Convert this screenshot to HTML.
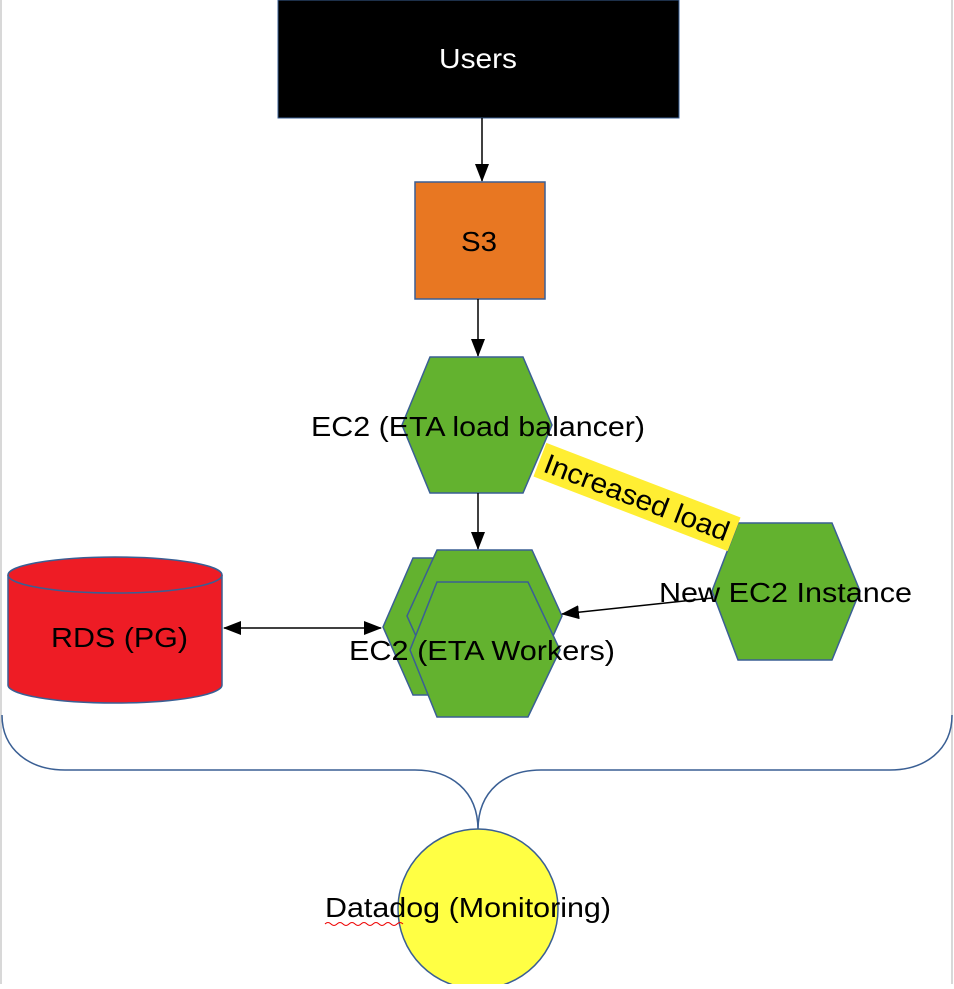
<!DOCTYPE html>
<html><head><style>
body{margin:0;background:#fff}
svg text{font-family:"Liberation Sans",sans-serif;}
</style></head><body>
<svg width="954" height="984" viewBox="0 0 954 984" xmlns="http://www.w3.org/2000/svg">
<line x1="1" y1="0" x2="1" y2="984" stroke="#ccc" stroke-width="1.5"/>
<line x1="952" y1="0" x2="952" y2="984" stroke="#ccc" stroke-width="1.5"/>
<defs><marker id="a" markerWidth="18" markerHeight="14" refX="17" refY="7" orient="auto" markerUnits="userSpaceOnUse"><path d="M0,0 L18,7 L0,14 z" fill="#000"/></marker>
<marker id="b" markerWidth="18" markerHeight="14" refX="1" refY="7" orient="auto" markerUnits="userSpaceOnUse"><path d="M18,0 L0,7 L18,14 z" fill="#000"/></marker></defs>
<rect x="278" y="0" width="401" height="118" fill="#000" stroke="#3a5f94"/>
<text x="439" y="68" fill="#fff" font-size="28" textLength="78" lengthAdjust="spacingAndGlyphs">Users</text>
<line x1="482" y1="118" x2="482" y2="181" stroke="#000" stroke-width="1.5" marker-end="url(#a)"/>
<rect x="415" y="182" width="130" height="117" fill="#e87722" stroke="#3a5f94" stroke-width="1.5"/>
<text x="461" y="251" font-size="28" textLength="36" lengthAdjust="spacingAndGlyphs">S3</text>
<line x1="478" y1="299" x2="478" y2="356" stroke="#000" stroke-width="1.5" marker-end="url(#a)"/>
<polygon points="430,357 523,357 552,425 523,493 430,493 402,425" fill="#63b22f" stroke="#3a5f94" stroke-width="1.5"/>
<text x="311" y="436" font-size="28" textLength="334" lengthAdjust="spacingAndGlyphs">EC2 (ETA load balancer)</text>
<line x1="478" y1="493" x2="478" y2="549" stroke="#000" stroke-width="1.5" marker-end="url(#a)"/>
<polygon points="413,558 506,558 534,627 506,695 413,695 383,627" fill="#63b22f" stroke="#3a5f94" stroke-width="1.5"/>
<polygon points="437,550 532,550 562,616 532,683 437,683 407,616" fill="#63b22f" stroke="#3a5f94" stroke-width="1.5"/>
<polygon points="437,582 528,582 560,650 528,717 437,717 410,650" fill="#63b22f" stroke="#3a5f94" stroke-width="1.5"/>
<text x="349" y="660" font-size="28" textLength="266" lengthAdjust="spacingAndGlyphs">EC2 (ETA Workers)</text>
<polygon points="738,523 832,523 860,591 832,660 738,660 712,591" fill="#63b22f" stroke="#3a5f94" stroke-width="1.5"/>
<line x1="712" y1="598" x2="562" y2="614" stroke="#000" stroke-width="1.5" marker-end="url(#a)"/>
<text x="659" y="602" font-size="28" textLength="253" lengthAdjust="spacingAndGlyphs">New EC2 Instance</text>
<path d="M8,575 L8,685 A107,18 0 0 0 222,685 L222,575" fill="#ee1c25" stroke="#3a5f94" stroke-width="1.5"/>
<ellipse cx="115" cy="575" rx="107" ry="18" fill="#ee1c25" stroke="#3a5f94" stroke-width="1.5"/>
<text x="51" y="647" font-size="28" textLength="137" lengthAdjust="spacingAndGlyphs">RDS (PG)</text>
<line x1="224" y1="628" x2="381" y2="628" stroke="#000" stroke-width="1.5" marker-start="url(#b)" marker-end="url(#a)"/>
<g transform="translate(637,497) rotate(21)">
<rect x="-104" y="-18" width="208" height="36" fill="#ffee33"/>
<text x="-98" y="10" font-size="28" textLength="196" lengthAdjust="spacingAndGlyphs">Increased load</text></g>
<path d="M2,715 C2,750 30,770 65,770 L415,770 C450,770 478,790 478,830 C478,790 506,770 541,770 L890,770 C925,770 952,750 952,715" fill="none" stroke="#3a5f94" stroke-width="1.5"/>
<circle cx="478" cy="909" r="80" fill="#ffff44" stroke="#3a5f94" stroke-width="1.5"/>
<text x="325" y="917" font-size="28" textLength="286" lengthAdjust="spacingAndGlyphs">Datadog (Monitoring)</text>
<path d="M325,924 q3,-3 6,0 t6,0 t6,0 t6,0 t6,0 t6,0 t6,0 t6,0 t6,0 t6,0 t6,0 t6,0 t6,0" fill="none" stroke="#e00" stroke-width="1"/>
</svg>
</body></html>
